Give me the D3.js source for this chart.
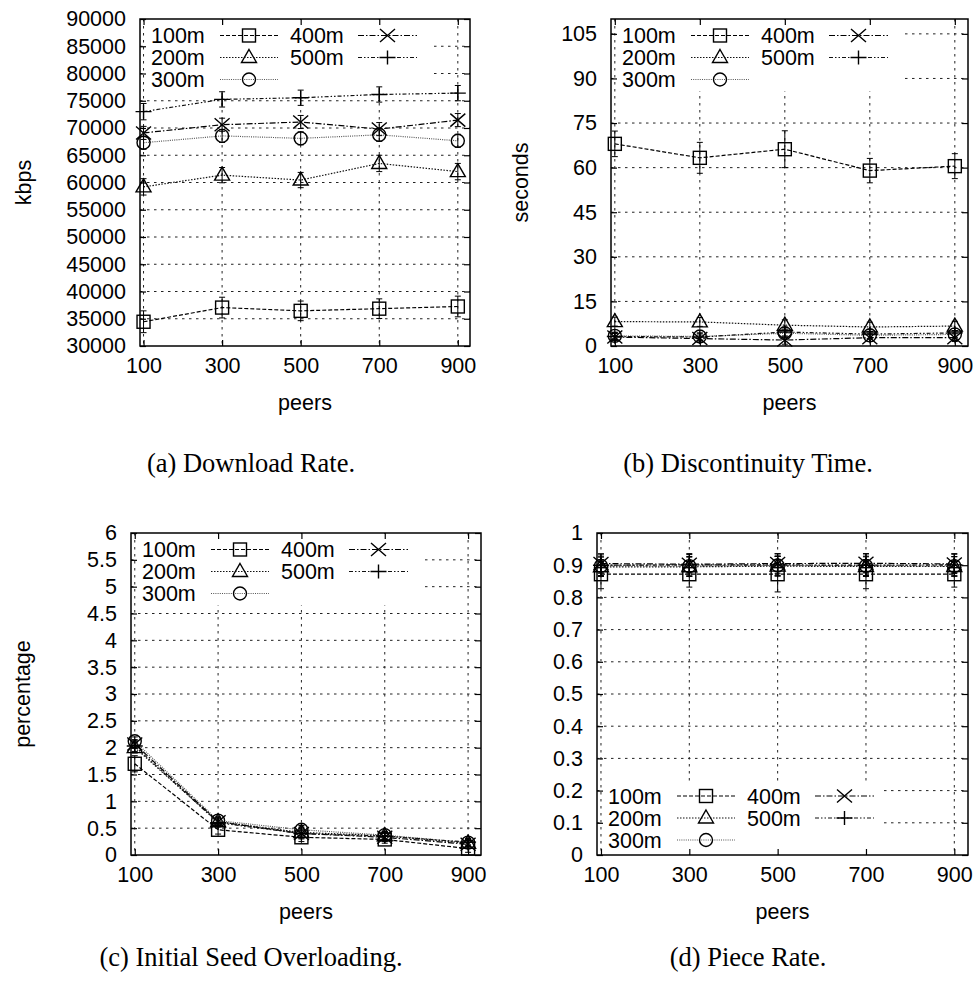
<!DOCTYPE html>
<html>
<head>
<meta charset="utf-8">
<script src="https://cdn.jsdelivr.net/npm/d3@7"></script>
<style>
body { margin: 0; background: #fff; }
</style>
</head>
<body>
<div id="chart"></div>
<script>
'use strict';

// ---- data ----
var peers = [100, 300, 500, 700, 900];
var seriesNames = ['100m', '200m', '300m', '400m', '500m'];

// (a) download rate, kbps
var rateValues = [
    [34450, 37050, 36450, 36850, 37250],
    [59200, 61350, 60450, 63500, 62000],
    [67300, 68550, 68100, 68750, 67650],
    [69100, 70600, 71100, 69800, 71450],
    [73000, 75250, 75550, 76150, 76400]
];
var rateErrors = [
    [2000, 1900, 1800, 1800, 1900],
    [1500, 1400, 1400, 1500, 1500],
    [1200, 1200, 1200, 1200, 1200],
    [1200, 1200, 1200, 1200, 1200],
    [1500, 1400, 1400, 1400, 1400]
];
var rateTicks = [30000, 35000, 40000, 45000, 50000, 55000, 60000, 65000, 70000, 75000, 80000, 85000, 90000];

// (b) discontinuity time, seconds
var discValues = [
    [68.0, 63.3, 66.2, 59.0, 60.5],
    [8.2, 8.1, 7.0, 6.4, 6.7],
    [3.4, 3.2, 4.3, 3.6, 3.9],
    [3.0, 2.5, 2.0, 2.8, 2.8],
    [3.2, 3.0, 4.7, 4.0, 4.4]
];
var discErrors = [
    [4.3, 5.2, 6.2, 4.1, 4.2],
    [1.5, 1.5, 1.8, 1.6, 1.6],
    [1.2, 1.2, 1.4, 1.3, 1.3],
    [1.2, 1.2, 1.4, 1.3, 1.3],
    [1.4, 1.3, 1.6, 1.5, 1.5]
];
var discTicks = [0, 15, 30, 45, 60, 75, 90, 105];

// (c) initial seed overloading, percentage
var seedValues = [
    [1.70, 0.47, 0.33, 0.29, 0.12],
    [2.00, 0.62, 0.42, 0.36, 0.22],
    [2.12, 0.64, 0.47, 0.37, 0.23],
    [2.07, 0.62, 0.40, 0.33, 0.20],
    [2.03, 0.60, 0.40, 0.35, 0.24]
];
var seedErrors = [
    [0.15, 0.08, 0.08, 0.07, 0.07],
    [0.10, 0.07, 0.10, 0.07, 0.07],
    [0.08, 0.07, 0.08, 0.07, 0.07],
    [0.08, 0.07, 0.08, 0.07, 0.07],
    [0.10, 0.07, 0.10, 0.07, 0.07]
];
var seedTicks = [0, 0.5, 1, 1.5, 2, 2.5, 3, 3.5, 4, 4.5, 5, 5.5, 6];

// (d) piece rate
var pieceValues = [
    [0.872, 0.872, 0.872, 0.872, 0.872],
    [0.895, 0.895, 0.897, 0.896, 0.896],
    [0.898, 0.897, 0.899, 0.898, 0.897],
    [0.905, 0.903, 0.905, 0.906, 0.904],
    [0.900, 0.901, 0.901, 0.900, 0.901]
];
var pieceErrors = [
    [0.045, 0.040, 0.055, 0.045, 0.040],
    [0.030, 0.030, 0.030, 0.030, 0.030],
    [0.030, 0.030, 0.030, 0.030, 0.030],
    [0.030, 0.030, 0.030, 0.030, 0.030],
    [0.035, 0.035, 0.035, 0.035, 0.035]
];
var pieceTicks = [0, 0.1, 0.2, 0.3, 0.4, 0.5, 0.6, 0.7, 0.8, 0.9, 1];

// ---- styles ----
var seriesDash = ['4,2', '1.5,1.5', '1,1.2', '6,2,1.5,2', '4,2,1.5,2,1.5,2'];
var seriesStroke = ['#000', '#111', '#555', '#000', '#111'];
var seriesMarker = ['square', 'triangle', 'circle', 'cross', 'plus'];

var sansFont = '"Liberation Sans", Arial, Helvetica, sans-serif';
var serifFont = '"Liberation Serif", "Times New Roman", serif';
var fontSize = 21.5;

var width = 973,
    height = 986;

var svg = d3.select('#chart').append('svg')
    .attr('width', width)
    .attr('height', height)
    .style('display', 'block');

var panels = [
    { left: 140, right: 470, top: 19, bottom: 346, yDomain: [30000, 90000], ticks: rateTicks,
      values: rateValues, errors: rateErrors, yLabel: 'kbps', yLabelX: 23, legend: 'top',
      caption: '(a) Download Rate.', capX: 251, capY: 472 },
    { left: 611, right: 968, top: 19, bottom: 346, yDomain: [0, 110], ticks: discTicks,
      values: discValues, errors: discErrors, yLabel: 'seconds', yLabelX: 520, legend: 'top',
      caption: '(b) Discontinuity Time.', capX: 748, capY: 472 },
    { left: 131, right: 481, top: 533, bottom: 855, yDomain: [0, 6], ticks: seedTicks,
      values: seedValues, errors: seedErrors, yLabel: 'percentage', yLabelX: 22, legend: 'top',
      caption: '(c) Initial Seed Overloading.', capX: 251, capY: 966 },
    { left: 597, right: 968, top: 533, bottom: 855, yDomain: [0, 1], ticks: pieceTicks,
      values: pieceValues, errors: pieceErrors, yLabel: null, yLabelX: 0, legend: 'bottom',
      caption: '(d) Piece Rate.', capX: 748, capY: 966 }
];

function drawMarker(g, type, cx, cy) {
    var m = g.append('g')
        .attr('transform', 'translate(' + cx + ',' + cy + ')')
        .attr('fill', 'none')
        .attr('stroke', '#000')
        .attr('stroke-width', 1.4);
    if (type === 'square') {
        m.append('rect').attr('x', -6.5).attr('y', -6.5).attr('width', 13).attr('height', 13);
    } else if (type === 'triangle') {
        m.append('path').attr('d', 'M0,-8L7.5,5L-7.5,5Z');
    } else if (type === 'circle') {
        m.append('circle').attr('r', 6.5);
    } else if (type === 'cross') {
        m.append('path').attr('d', 'M-7.5,-6.5L7.5,6.5M-7.5,6.5L7.5,-6.5');
    } else {
        m.append('path').attr('d', 'M-8,0L8,0M0,-7L0,7');
    }
}

function drawPanel(p) {
    var x = d3.scaleLinear().domain([91, 931]).range([p.left, p.right]);
    var y = d3.scaleLinear().domain(p.yDomain).range([p.bottom, p.top]);
    var g = svg.append('g');

    // grid
    var grid = g.append('g')
        .attr('stroke', '#222')
        .attr('stroke-width', 1)
        .attr('stroke-dasharray', '2.5,4.5');
    grid.selectAll('line.h')
        .data(p.ticks.filter(function(d) { return y(d) > p.top + 1 && y(d) < p.bottom - 1; }))
        .enter()
        .append('line')
        .attr('x1', p.left).attr('x2', p.right)
        .attr('y1', function(d) { return y(d); })
        .attr('y2', function(d) { return y(d); });
    grid.selectAll('line.v')
        .data(peers)
        .enter()
        .append('line')
        .attr('y1', p.top).attr('y2', p.bottom)
        .attr('x1', function(d) { return x(d); })
        .attr('x2', function(d) { return x(d); });

    // legend box hides grid
    var legTop = p.legend === 'top' ? p.top + 1 : p.bottom - 73;
    g.append('rect')
        .attr('x', p.left + 7)
        .attr('y', legTop)
        .attr('width', p.legend === 'top' ? 285 : 279)
        .attr('height', 71)
        .attr('fill', '#fff');

    // series
    var line = d3.line()
        .x(function(d, i) { return x(peers[i]); })
        .y(function(d) { return y(d); });

    p.values.forEach(function(vals, s) {
        g.append('path')
            .datum(vals)
            .attr('d', line)
            .attr('fill', 'none')
            .attr('stroke', seriesStroke[s])
            .attr('stroke-width', 1.2)
            .attr('stroke-dasharray', seriesDash[s]);

        vals.forEach(function(v, i) {
            var cx = x(peers[i]),
                e = p.errors[s][i],
                y0 = y(v - e),
                y1 = y(v + e);
            var eb = g.append('g').attr('stroke', '#000').attr('stroke-width', 1);
            eb.append('line').attr('x1', cx).attr('x2', cx).attr('y1', y0).attr('y2', y1);
            eb.append('line').attr('x1', cx - 3).attr('x2', cx + 3).attr('y1', y0).attr('y2', y0);
            eb.append('line').attr('x1', cx - 3).attr('x2', cx + 3).attr('y1', y1).attr('y2', y1);
            drawMarker(g, seriesMarker[s], cx, y(v));
        });
    });

    // axes with inward ticks
    var fmt = function(d) { return String(d); };
    var left = g.append('g')
        .attr('transform', 'translate(' + p.left + ',0)')
        .call(d3.axisLeft(y).tickValues(p.ticks).tickFormat(fmt).tickSizeInner(-6).tickSizeOuter(0).tickPadding(14));
    var right = g.append('g')
        .attr('transform', 'translate(' + p.right + ',0)')
        .call(d3.axisRight(y).tickValues(p.ticks).tickFormat('').tickSizeInner(-6).tickSizeOuter(0));
    var bottom = g.append('g')
        .attr('transform', 'translate(0,' + p.bottom + ')')
        .call(d3.axisBottom(x).tickValues(peers).tickFormat(fmt).tickSizeInner(-6).tickSizeOuter(0).tickPadding(12));
    var top = g.append('g')
        .attr('transform', 'translate(0,' + p.top + ')')
        .call(d3.axisTop(x).tickValues(peers).tickFormat('').tickSizeInner(-6).tickSizeOuter(0));

    [left, right, bottom, top].forEach(function(a) {
        a.select('.domain').remove();
        a.selectAll('line').attr('stroke', '#000').attr('stroke-width', 1.2);
        a.selectAll('text')
            .attr('fill', '#000')
            .style('font-family', sansFont)
            .style('font-size', fontSize + 'px');
    });

    // frame
    g.append('rect')
        .attr('x', p.left).attr('y', p.top)
        .attr('width', p.right - p.left).attr('height', p.bottom - p.top)
        .attr('fill', 'none')
        .attr('stroke', '#000')
        .attr('stroke-width', 1.5);

    // legend entries
    var rowY = p.legend === 'top' ? p.top + 16.5 : p.bottom - 59;
    seriesNames.forEach(function(name, s) {
        var col = s < 3 ? 0 : 1,
            row = s < 3 ? s : s - 3,
            cy = rowY + row * 22,
            tx = p.left + (col ? 150 : 11),
            sx1 = p.left + (col ? 218 : 80),
            sx2 = p.left + (col ? 277 : 138);
        g.append('text')
            .attr('x', tx).attr('y', cy).attr('dy', '0.35em')
            .style('font-family', sansFont)
            .style('font-size', fontSize + 'px')
            .text(name);
        g.append('line')
            .attr('x1', sx1).attr('x2', sx2).attr('y1', cy).attr('y2', cy)
            .attr('stroke', seriesStroke[s])
            .attr('stroke-width', 1.2)
            .attr('stroke-dasharray', seriesDash[s]);
        drawMarker(g, seriesMarker[s], (sx1 + sx2) / 2, cy);
    });

    // axis titles
    if (p.yLabel) {
        g.append('text')
            .attr('transform', 'translate(' + p.yLabelX + ',' + (p.top + p.bottom) / 2 + ') rotate(-90)')
            .attr('text-anchor', 'middle')
            .attr('dy', '0.35em')
            .style('font-family', sansFont)
            .style('font-size', fontSize + 'px')
            .text(p.yLabel);
    }
    g.append('text')
        .attr('x', (p.left + p.right) / 2)
        .attr('y', p.bottom + 64)
        .attr('text-anchor', 'middle')
        .style('font-family', sansFont)
        .style('font-size', fontSize + 'px')
        .text('peers');

    // sub-caption
    g.append('text')
        .attr('x', p.capX)
        .attr('y', p.capY)
        .attr('text-anchor', 'middle')
        .style('font-family', serifFont)
        .style('font-size', '26.5px')
        .text(p.caption);
}

panels.forEach(drawPanel);
</script>
</body>
</html>
